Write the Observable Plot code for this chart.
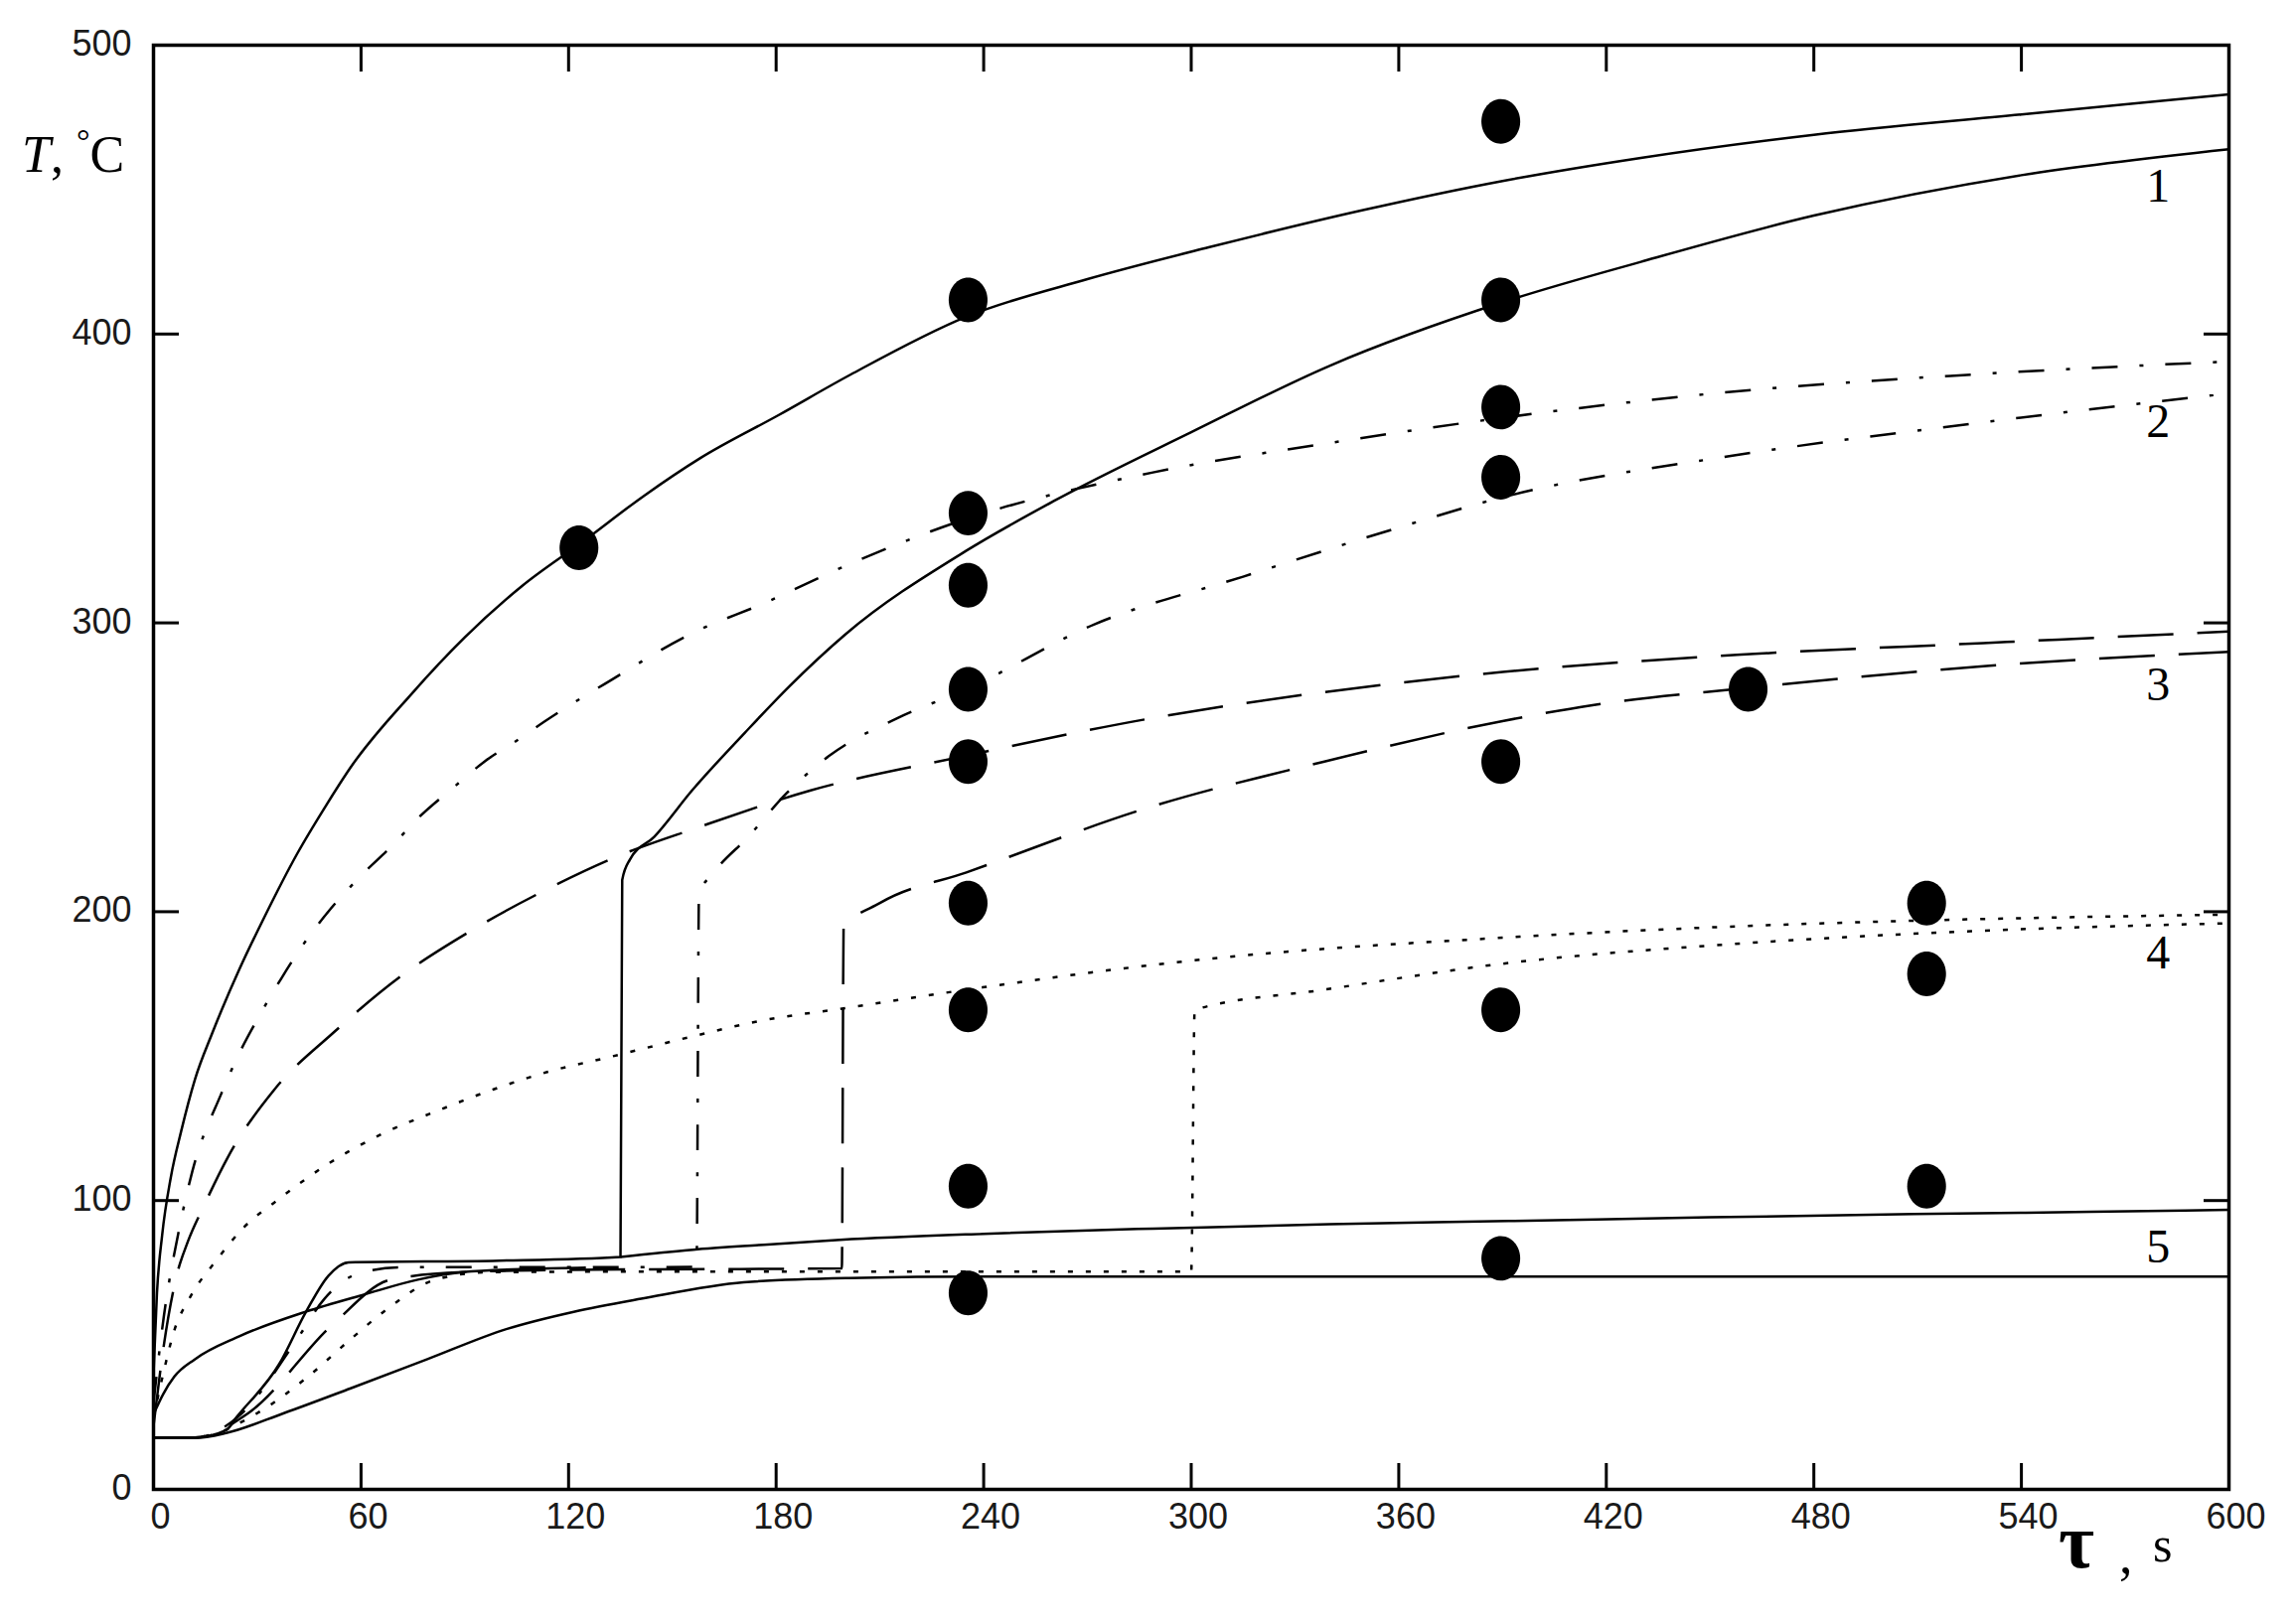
<!DOCTYPE html>
<html><head><meta charset="utf-8">
<script src="https://cdn.jsdelivr.net/npm/d3@7"></script>
<script src="https://cdn.jsdelivr.net/npm/@observablehq/plot@0.6"></script>
<style>html,body{margin:0;padding:0;background:#fff;}#chart svg{display:block;}</style>
</head><body><div id="chart"></div>
<script>
// ---- axis ticks ----
const xTicks = [0, 60, 120, 180, 240, 300, 360, 420, 480, 540, 600];
const yTicks = [0, 100, 200, 300, 400, 500];

// ---- curves: [time s, temperature °C] ----
const curve1Upper = [[0,40],[1,68],[2.5,88],[5,108],[8,124],[12,142],[17,158],[24.8,180],[32,198],[41.5,220],[50,237],[57,250],[74.3,275],[90,295],[106.8,313],[124,328],[141.8,344],[158,357],[180.8,372],[201.6,386],[235,406],[270,419],[305,430],[350,443],[390,453],[430,461],[480,469],[540,476],[600,483]];
const curve1Lower = [[0,18],[12,18],[21,20.5],[24,25],[36.4,43.5],[44.1,61.5],[50.6,74],[56.4,78.6],[100,79.2],[135,80.5],[135.5,211],[137.7,218],[144.8,226],[155.7,242],[171,262],[183.8,278],[200,296],[235,325],[260,342],[300,366],[340,389],[390,411],[430,425],[480,441],[540,455],[600,464]];
const curve2Upper = [[0,30],[3,60],[7.4,90],[11.2,110],[19.6,137],[24.8,151],[30.6,164],[37,177],[43.5,189],[51.2,201],[59.6,212],[68.6,222.4],[77,233],[86.7,243],[95.7,252],[106,260],[113,265.8],[132.7,280.5],[155,296],[176.9,307],[199.6,319.5],[235,336],[288.6,352],[338.5,362],[390,371],[456,380],[526,386],[600,390.5]];
const curve2Lower = [[0,18],[12,18],[24.8,25.5],[41.5,52],[49.3,65.8],[58.3,74.3],[71.2,76.9],[157,77],[157.7,206],[162,213.6],[172,226],[183,241],[195.4,254],[215,267],[235,277],[272,299.5],[315,316],[360,333],[390,343.5],[456,357.8],[526,369],[600,379.5]];
const curve3Upper = [[0,22],[3,50],[6.7,74],[10,86],[14.5,98],[21.5,115],[35,138.5],[51.9,158],[71.9,178],[91.2,193],[112.5,207],[133.8,219],[157,229],[190,242],[235,254],[288.6,267],[355,278.5],[390,283],[459,289],[529,293],[600,297]];
const curve3Lower = [[0,18],[12,18],[27.4,26.4],[51.9,57.2],[68.6,72.6],[89.3,75.2],[120,76],[199,76.5],[199.5,194.2],[210,203],[235,213.6],[288.6,236.4],[338.5,252],[390,266],[416,271.5],[461,277.5],[529,285],[600,290]];
const curve4Upper = [[0,25],[2.8,40],[6,55],[10.6,66.6],[18.3,79.5],[26,90.6],[35.7,100],[50.6,112.8],[66,123],[81.5,130.8],[98.3,138.5],[113.8,144.5],[131.9,149.7],[156.4,157],[174.5,162],[201,166.8],[235,173],[305,183.7],[390,191],[459,195],[512.7,197],[600,199]];
const curve4Lower = [[0,18],[12,18],[30,26.4],[44,38.4],[57,52],[67.4,62.3],[81.5,72.6],[97,75.2],[150,75.4],[300,75.4],[301,166],[338.5,173],[390,182],[459,189],[512.7,192.6],[600,196]];
const curve5Upper = [[135,80.5],[156,83],[175,84.6],[198.5,86.4],[240,88.5],[289,90.3],[340,91.8],[391.7,92.9],[450,94.2],[509,95.3],[560,96.1],[600,96.8]];
const curve5Ramp = [[0,26],[2.8,33],[6,39],[11.9,45],[24.8,53],[44,61.5],[61,67.5],[76.4,72.6],[89.3,75.2],[110,76.4],[125,76.8]];
const curve5Bottom = [[0,17.8],[12,17.8],[21,19.5],[37.7,26.4],[57,35],[79,45],[102,55.5],[121.5,61.5],[141,66],[170.6,71.7],[201,73.2],[240,73.7],[600,73.7]];

// ---- measured points ----
const dotTime = [123, 235.5, 235.5, 235.5, 235.5, 235.5, 235.5, 235.5, 235.5, 235.5, 389.5, 389.5, 389.5, 389.5, 389.5, 389.5, 389.5, 461, 512.6, 512.6, 512.6];
const dotTemp = [326, 411.8, 338, 313, 277, 252, 203, 166, 105, 68, 473.6, 411.8, 374.7, 350.4, 252, 166, 80, 277, 203, 178.5, 105];

// ---- curve labels ----
const curveLabels = ["1", "2", "3", "4", "5"];
const curveLabelTemp = [451, 369.5, 278.5, 185.8, 83.8];
const curveLabelTime = 579.5;

// ---- build tables ----
const curves = [
  {id: "1u", style: "solid", pts: curve1Upper},
  {id: "1l", style: "solid", pts: curve1Lower},
  {id: "5u", style: "solid", pts: curve5Upper},
  {id: "5r", style: "solid", pts: curve5Ramp},
  {id: "5b", style: "solid", pts: curve5Bottom},
  {id: "2u", style: "dashdot", pts: curve2Upper},
  {id: "2l", style: "dashdot", pts: curve2Lower},
  {id: "3u", style: "longdash", pts: curve3Upper},
  {id: "3l", style: "longdash", pts: curve3Lower},
  {id: "4u", style: "dotted", pts: curve4Upper},
  {id: "4l", style: "dotted", pts: curve4Lower}
];
const lineRows = curves.flatMap(c => c.pts.map(([t, T]) => ({t, T, id: c.id, style: c.style})));
const rows = s => lineRows.filter(d => d.style === s);
const dots = dotTime.map((t, i) => ({t, T: dotTemp[i]}));
const labels = curveLabels.map((s, i) => ({s, t: curveLabelTime, T: curveLabelTemp[i]}));

// slightly taller-than-wide filled marker, as in the source figure
const ellipse = {
  draw(ctx, size) {
    const r = Math.sqrt(size / Math.PI), rx = r * 0.93, ry = r * 1.07, k = 0.5523;
    ctx.moveTo(rx, 0);
    ctx.bezierCurveTo(rx, ry * k, rx * k, ry, 0, ry);
    ctx.bezierCurveTo(-rx * k, ry, -rx, ry * k, -rx, 0);
    ctx.bezierCurveTo(-rx, -ry * k, -rx * k, -ry, 0, -ry);
    ctx.bezierCurveTo(rx * k, -ry, rx, -ry * k, rx, 0);
    ctx.closePath();
  }
};

const lineOpts = {x: "t", y: "T", z: "id", stroke: "#000", strokeWidth: 2.5, strokeLinecap: "butt", curve: "monotone-x"};
const tickFont = "'Liberation Sans', Arial, sans-serif";

const plot = Plot.plot({
  width: 2311, height: 1632,
  marginLeft: 154, marginRight: 68, marginTop: 45, marginBottom: 133,
  x: {domain: [0, 600], label: null},
  y: {domain: [0, 500], label: null},
  style: {background: "#fff", color: "#000", fontFamily: tickFont},
  marks: [
    Plot.line(rows("solid"), lineOpts),
    Plot.line(rows("dashdot"), {...lineOpts, strokeDasharray: "26,22,4,22"}),
    Plot.line(rows("longdash"), {...lineOpts, strokeDasharray: "56,24"}),
    Plot.line(rows("dotted"), {...lineOpts, strokeDasharray: "5,13"}),
    Plot.dot(dots, {x: "t", y: "T", r: 21, symbol: ellipse, fill: "#000", stroke: null}),
    Plot.text(labels, {x: "t", y: "T", text: "s", fontFamily: "'Liberation Serif', 'Times New Roman', serif", fontSize: 48, fill: "#000"}),
    Plot.frame({stroke: "#000", strokeWidth: 3.5}),
    Plot.axisX({anchor: "bottom", ticks: xTicks, tickSize: -26, strokeWidth: 3, tickFormat: () => "", label: null}),
    Plot.axisX({anchor: "top", ticks: xTicks, tickSize: -26, strokeWidth: 3, tickFormat: () => "", label: null}),
    Plot.axisY({anchor: "left", ticks: yTicks, tickSize: -26, strokeWidth: 3, tickFormat: () => "", label: null}),
    Plot.axisY({anchor: "right", ticks: yTicks, tickSize: -26, strokeWidth: 3, tickFormat: () => "", label: null}),
    Plot.axisX({anchor: "bottom", ticks: xTicks, tickSize: 0, tickPadding: 14, fontSize: 36, dx: 7, fill: "#1a1a1a", label: null}),
    Plot.axisY({anchor: "left", ticks: yTicks, tickSize: 0, tickPadding: 22, fontSize: 36, dy: -1, fill: "#1a1a1a", label: null})
  ]
});
document.getElementById("chart").append(plot);

// ---- axis titles ----
const svg = d3.select(plot);
const serif = "'Liberation Serif', 'Times New Roman', serif";
const yt = svg.append("text").attr("x", 22).attr("y", 173).attr("text-anchor", "start").attr("font-family", serif).attr("font-size", 52).attr("fill", "#000");
yt.append("tspan").attr("font-style", "italic").text("T");
yt.append("tspan").text(", ");
yt.append("tspan").attr("font-size", 34).attr("dy", -20).text("°");
yt.append("tspan").attr("dy", 20).text("C");

svg.append("text").attr("x", 2072).attr("y", 1578).attr("text-anchor", "start").attr("font-family", serif).attr("font-size", 78).attr("font-weight", "bold").attr("fill", "#000").text("τ");
svg.append("text").attr("x", 2133).attr("y", 1584).attr("text-anchor", "start").attr("font-family", serif).attr("font-size", 54).attr("fill", "#000").text(",");
svg.append("text").attr("x", 2167).attr("y", 1572).attr("text-anchor", "start").attr("font-family", serif).attr("font-size", 50).attr("fill", "#000").text("s");
</script>
</body></html>
